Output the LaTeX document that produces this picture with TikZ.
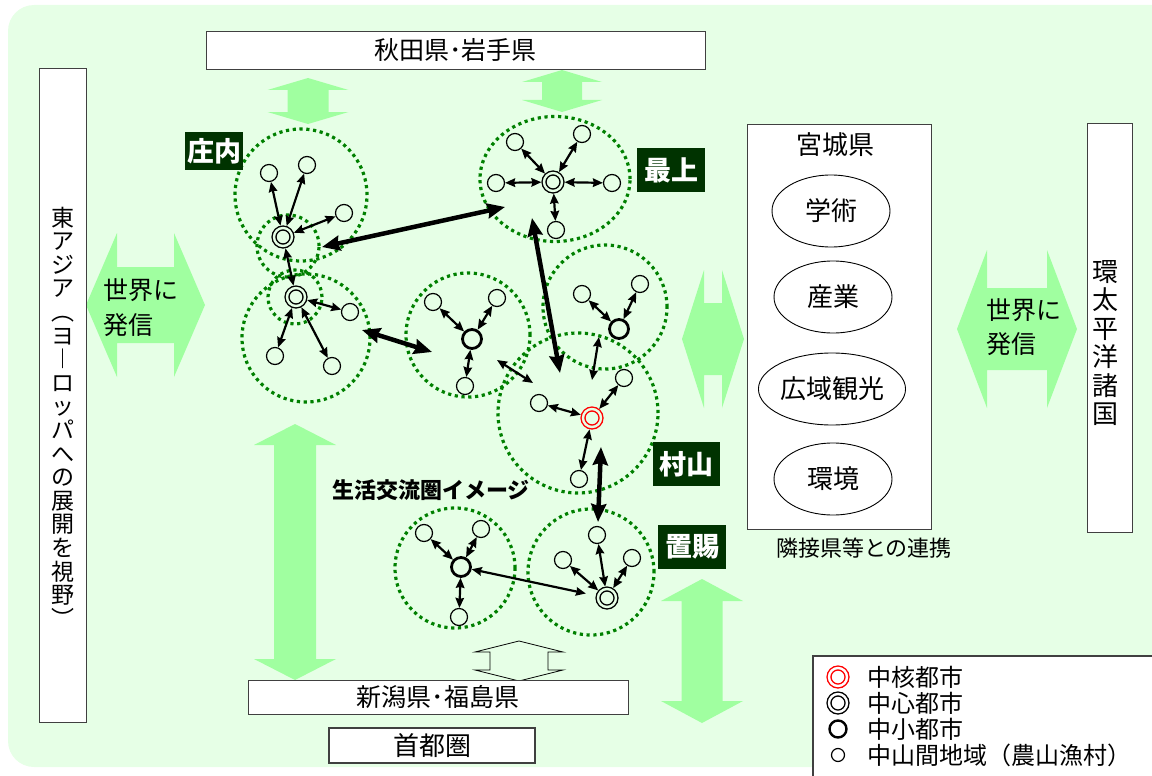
\documentclass[tikz,border=0pt]{standalone}
\usepackage{fontspec}
\setmainfont{Noto Sans CJK JP}
\usetikzlibrary{arrows.meta,shapes.geometric}

\definecolor{bg}{HTML}{E6FFE6}
\definecolor{blockgreen}{HTML}{A0FFA0}
\definecolor{dotgreen}{HTML}{008000}
\definecolor{tagbg}{HTML}{003300}

\newcommand{\fs}[1]{\fontsize{#1}{#1}\selectfont}
% vertical block arrow: [opts]{cx}{ytop}{ybottom}{head}{half head}{half shaft}
\newcommand{\vblock}[7][fill=blockgreen]{%
  \path[#1] (#2,#3) -- (#2+#6,#3+#5) -- (#2+#7,#3+#5) -- (#2+#7,#4-#5)
    -- (#2+#6,#4-#5) -- (#2,#4) -- (#2-#6,#4-#5) -- (#2-#7,#4-#5)
    -- (#2-#7,#3+#5) -- (#2-#6,#3+#5) -- cycle;}
% horizontal block arrow: [opts]{cy}{xleft}{xright}{head}{half head}{half shaft}
\newcommand{\hblock}[7][fill=blockgreen]{%
  \path[#1] (#3,#2) -- (#3+#5,#2-#6) -- (#3+#5,#2-#7) -- (#4-#5,#2-#7)
    -- (#4-#5,#2-#6) -- (#4,#2) -- (#4-#5,#2+#6) -- (#4-#5,#2+#7)
    -- (#3+#5,#2+#7) -- (#3+#5,#2+#6) -- cycle;}

\begin{document}
\begin{tikzpicture}[x=1pt,y=-1pt,
    area/.style={circle, draw=dotgreen, line width=3.2pt, dash pattern=on 3.2pt off 3.6pt, inner sep=0pt},
    village/.style={circle, draw, line width=1.2pt, minimum size=17pt, inner sep=0pt},
    town/.style={circle, draw, line width=2.8pt, minimum size=19pt, inner sep=0pt},
    city/.style={circle, draw, line width=1.4pt, double=bg, double distance=2.4pt, minimum size=18pt, inner sep=0pt, outer sep=2.6pt},
    core/.style={city, draw=red},
    link/.style={{Stealth[length=10pt,width=8.5pt,inset=1pt]}-{Stealth[length=10pt,width=8.5pt,inset=1pt]}, line width=2.2pt},
    biglink/.style={{Stealth[length=18pt,width=15pt,inset=2pt]}-{Stealth[length=18pt,width=15pt,inset=2pt]}, line width=4.5pt},
    box/.style={draw=black!75, fill=white, line width=0.9pt, inner sep=0pt},
    field/.style={ellipse, draw, fill=white, line width=0.9pt, minimum width=118pt, minimum height=72pt, inner sep=0pt, font=\fs{26}},
    tag/.style={fill=tagbg, text=white, inner sep=0pt, font=\bfseries\fs{27}},
    vtext/.style={align=center, inner sep=0pt}]
  \useasboundingbox (0,0) rectangle (1152,776);
  \fill[bg, rounded corners=26pt] (8,5) rectangle (1190,767);

  % green block arrows
  \vblock{308}{78}{124}{12}{40.5}{20.5}
  \vblock{562}{70}{112}{12}{40}{20}
  \vblock{295}{424}{680}{21}{41}{21}
  \vblock{702}{579}{723}{22}{41}{20.5}
  \vblock[fill=bg, draw=black, line width=0.8pt]{519}{641}{681}{11}{44}{29}
  \hblock{305}{86}{205}{31}{72}{38}
  \hblock{339}{682}{744}{22}{69}{36}
  \hblock{329}{957}{1077}{30}{79}{41}
  \node[anchor=west, font=\fs{25}] (w1) at (100,290) {世界に};
  \node[anchor=west, font=\fs{25}] (w2) at (100,325) {発信};
  \node[anchor=west, font=\fs{25}] (w3) at (983,310) {世界に};
  \node[anchor=west, font=\fs{25}] (w4) at (983,344) {発信};

  % boxes round the map
  \node[box, minimum width=499pt, minimum height=38pt, font=\fs{25}] (akita) at (455.5,50) {秋田県･岩手県};
  \node[box, minimum width=47pt, minimum height=654pt] (asia) at (62.5,395) {};
  \node[vtext, font=\fontsize{23}{23.6}\selectfont] (asiat) at (62.5,417)
    {東\\ア\\ジ\\ア\\︵\\ヨ\\︱\\ロ\\ッ\\パ\\へ\\の\\展\\開\\を\\視\\野\\︶};
  \node[box, minimum width=184pt, minimum height=405pt] (miyagi) at (839,326.5) {};
  \node[font=\fs{26}] (miyagit) at (835,145) {宮城県};
  \node[field] (f1) at (831,211) {学術};
  \node[field] (f2) at (833,297) {産業};
  \node[field] (f3) at (832,389) {広域観光};
  \node[field] (f4) at (833,479) {環境};
  \node[font=\fs{22}] (renkei) at (864,548) {隣接県等との連携};
  \node[box, minimum width=45pt, minimum height=409pt] (pacific) at (1109.5,327.5) {};
  \node[vtext, font=\fontsize{26}{28.4}\selectfont] (pacifict) at (1105,343) {環\\太\\平\\洋\\諸\\国};
  \node[box, minimum width=380pt, minimum height=34pt, font=\fs{25}] (niigata) at (438,697) {新潟県･福島県};
  \node[box, line width=2.2pt, minimum width=206pt, minimum height=35pt, font=\fs{26}] (shuto) at (432,745.5) {首都圏};

  % dotted areas
  \node[area, minimum size=132pt] (shonaiN) at (301,195) {};
  \node[area, minimum size=128pt] (shonaiS) at (306,338) {};
  \node[area, minimum size=62pt] (shonaiA) at (288,246) {};
  \node[area, minimum size=54pt] (shonaiB) at (295,297) {};
  \node[area, ellipse, minimum width=150pt, minimum height=125pt] (mogami) at (555,179) {};
  \node[area, minimum size=124pt] (naka) at (468,335) {};
  \node[area, minimum size=124pt] (higashi) at (605,307) {};
  \node[area, minimum size=160pt] (murayama) at (578,413) {};
  \node[area, minimum size=120pt] (nishi) at (455,568) {};
  \node[area, minimum size=126pt] (okitama) at (591,572) {};

  % shonai
  \node[city] (sc1) at (283,237) {};
  \node[city] (sc2) at (296,297) {};
  \node[village] (sv1) at (269,173) {};
  \node[village] (sv2) at (307,165) {};
  \node[village] (sv3) at (344,213) {};
  \node[village] (sv4) at (350,312) {};
  \node[village] (sv5) at (275,356) {};
  \node[village] (sv6) at (332,366) {};
  % mogami
  \node[city] (mc) at (553,182) {};
  \node[village] (mv1) at (515,142) {};
  \node[village] (mv2) at (582,134) {};
  \node[village] (mv3) at (496,183) {};
  \node[village] (mv4) at (612,183) {};
  \node[village] (mv5) at (556,230) {};
  % naka / higashi
  \node[town] (nc) at (472,339) {};
  \node[village] (nv1) at (433,302) {};
  \node[village] (nv2) at (497,298) {};
  \node[village] (nv3) at (465,386) {};
  \node[town] (hc) at (619,329) {};
  \node[village] (hv1) at (582,294) {};
  \node[village] (hv2) at (640,284) {};
  % murayama
  \node[core] (rc) at (592,418) {};
  \node[village] (rv1) at (539,403) {};
  \node[village] (rv2) at (624,378) {};
  \node[village] (rv3) at (579,479) {};
  % nishi / okitama
  \node[town] (wc) at (461,567) {};
  \node[village] (wv1) at (424,533) {};
  \node[village] (wv2) at (481,529) {};
  \node[village] (wv3) at (459,617) {};
  \node[city] (oc) at (607,598) {};
  \node[village] (ov1) at (563,560) {};
  \node[village] (ov2) at (597,535) {};
  \node[village] (ov3) at (632,558) {};

  \foreach \v in {sv1,sv2,sv3,sc2}
    \draw[link] (sc1) -- (\v);
  \foreach \v in {sv4,sv5,sv6}
    \draw[link] (sc2) -- (\v);
  \foreach \i in {1,...,5}
    \draw[link] (mc) -- (mv\i);
  \foreach \i in {1,2,3} {
    \draw[link] (nc) -- (nv\i);
    \draw[link] (rc) -- (rv\i);
    \draw[link] (wc) -- (wv\i);
    \draw[link] (oc) -- (ov\i);
  }
  \foreach \i in {1,2}
    \draw[link] (hc) -- (hv\i);
  \draw[link, shorten >=10pt] (wc) -- (oc);

  % links between the areas
  \coordinate (h1) at (599,337);
  \coordinate (h2) at (592,380);
  \coordinate (n1) at (497,360);
  \coordinate (n2) at (533,383);
  \draw[link] (h1) -- (h2);
  \draw[link] (n1) -- (n2);
  \coordinate (t1) at (322,247);
  \coordinate (t2) at (505,207);
  \coordinate (t3) at (532,218);
  \coordinate (t4) at (560,373);
  \coordinate (t5) at (362,330);
  \coordinate (t6) at (432,352);
  \coordinate (t7) at (601,447);
  \coordinate (t8) at (598,522);
  \draw[biglink] (t1) -- (t2);
  \draw[biglink] (t3) -- (t4);
  \draw[biglink] (t5) -- (t6);
  \draw[biglink] (t7) -- (t8);

  % area names
  \node[tag, minimum width=58pt, minimum height=38pt] (tshonai) at (214,151) {庄内};
  \node[tag, minimum width=68pt, minimum height=44pt] (tmogami) at (671,170) {最上};
  \node[tag, minimum width=67pt, minimum height=44pt] (tmurayama) at (686.5,464) {村山};
  \node[tag, minimum width=68pt, minimum height=44pt] (tokitama) at (692,547) {置賜};
  \node[font=\bfseries\fs{22}] (title) at (431,490) {生活交流圏イメージ};

  % legend
  \node[box, line width=2pt, minimum width=360pt, minimum height=140pt, anchor=north west] (legend) at (812,655) {};
  \node[core, double=white] (lg1) at (838,677) {};
  \node[city, double=white] (lg2) at (838,703) {};
  \node[town, minimum size=17pt, line width=2.4pt] (lg3) at (838,729) {};
  \node[village, minimum size=13pt] (lg4) at (838,755) {};
  \node[anchor=west, font=\fs{24}] (lt1) at (864,677) {中核都市};
  \node[anchor=west, font=\fs{24}] (lt2) at (864,703) {中心都市};
  \node[anchor=west, font=\fs{24}] (lt3) at (864,729) {中小都市};
  \node[anchor=west, font=\fs{24}] (lt4) at (864,755) {中山間地域（農山漁村）};
\end{tikzpicture}
\end{document}
